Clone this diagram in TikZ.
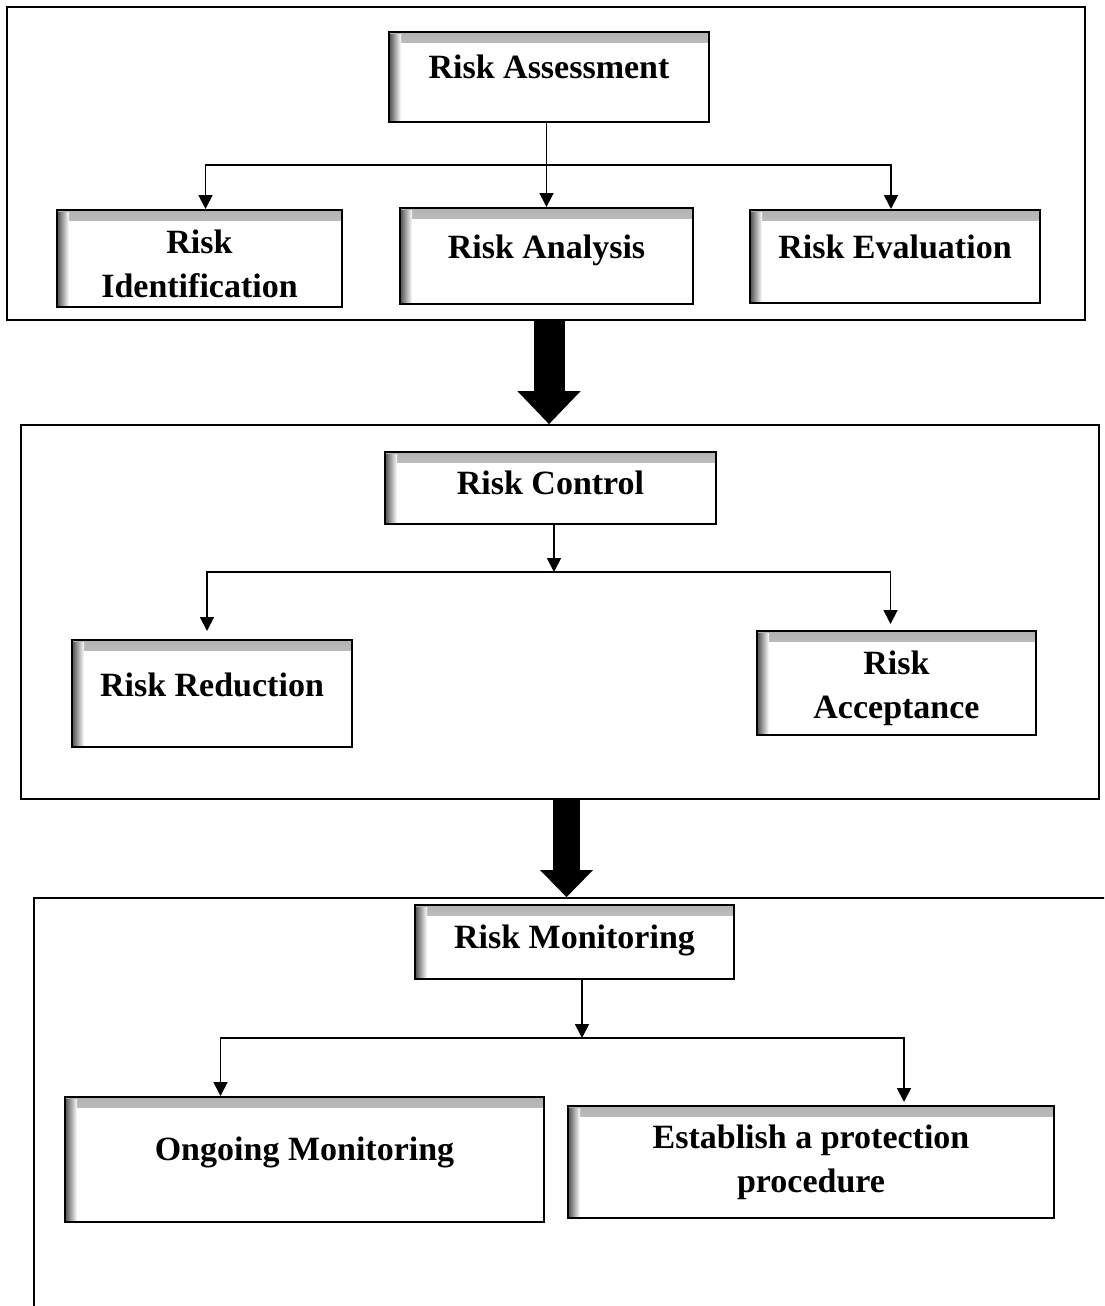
\documentclass[tikz,border=0pt]{standalone}
\usepackage{fontspec}
\setmainfont{Liberation Serif}
\usetikzlibrary{positioning, arrows.meta, calc}

\begin{document}
\begin{tikzpicture}[
    x=0.5pt, y=-0.5pt,
    panel/.style={draw, line width=0.8pt, inner sep=0pt},
    box/.style={
      draw, line width=1pt, fill=white, align=center, inner sep=2pt,
      font=\fontsize{17}{22}\selectfont\bfseries, text height=11.5pt,
      path picture={
        \shade[top color=black!30, bottom color=white]
          (path picture bounding box.north west) rectangle
          ([yshift=-5pt]path picture bounding box.north east);
        \shade[left color=black!70, right color=white]
          ([yshift=-1pt]path picture bounding box.north west) rectangle
          ([xshift=6pt]path picture bounding box.south west);
      }
    },
    twoline/.style={box, text height=#1, text depth=0pt},
    link/.style={draw, line width=0.9pt, -{Triangle[length=7pt, width=7pt]}},
    bigarrow/.style={line width=15.5pt, -{Triangle[length=16.5pt, width=30.5pt]}},
    smallbigarrow/.style={line width=13.5pt, -{Triangle[length=13.5pt, width=25.5pt]}},
]
    \useasboundingbox (0,0) rectangle (1104,1306);
    \clip (0,0) rectangle (1104,1306);

    % Panels
    \node[panel, minimum width=539pt, minimum height=156.5pt] (p1) at (546,163.5) {};
    \node[panel, minimum width=539pt, minimum height=187pt] (p2) at (560,612) {};
    \node[panel, minimum width=548pt, minimum height=221pt] (p3) at (582,1119) {};

    % Assessment
    \node[box, minimum width=160pt, minimum height=45pt, text depth=10.5pt] (ra) at (549,77) {Risk Assessment};
    \node[twoline=38.5pt, minimum width=142.5pt, minimum height=48.5pt] (ri) at (199.5,258.5) {Risk\\Identification};
    \node[box, minimum width=146.5pt, minimum height=48pt, text depth=9.5pt] (an) at (546.5,256) {Risk Analysis};
    \node[box, minimum width=145pt, minimum height=46.5pt, text depth=10pt] (re) at (895,256.5) {Risk Evaluation};

    % Control
    \node[box, minimum width=165.5pt, minimum height=36pt, text depth=5.5pt] (rc) at (550.5,488) {Risk Control};
    \node[box, minimum width=140pt, minimum height=53.5pt, text depth=9pt] (rr) at (212,693.5) {Risk Reduction};
    \node[twoline=35pt, minimum width=139.5pt, minimum height=52pt] (racc) at (896.5,683) {Risk\\Acceptance};

    % Monitoring
    \node[box, minimum width=159.5pt, minimum height=37pt, text depth=5.5pt] (rm) at (574.5,942) {Risk Monitoring};
    \node[box, minimum width=239.5pt, minimum height=62.5pt, text depth=11pt] (om) at (304.5,1159.5) {Ongoing Monitoring};
    \node[twoline=30pt, minimum width=243pt, minimum height=56pt] (ep) at (811,1162) {Establish a protection\\procedure};

    % Branch points
    \coordinate (j1) at (547,165);
    \coordinate (j2) at (554,572);
    \coordinate (j3) at (582,1038);

    % Connectors
    \draw[link] (an.north |- ra.south) -- (an.north);
    \draw[link] (j1) -| ([xshift=3pt]ri.north);
    \draw[link] (j1) -| ([xshift=-2pt]re.north);

    \draw[link] (j2 |- rc.south) -- (j2);
    \draw[link, shorten >=4pt] (j2) -| ([xshift=-2.5pt]rr.north);
    \draw[link, shorten >=3pt] (j2) -| ([xshift=-3pt]racc.north);

    \draw[link] (j3 |- rm.south) -- (j3);
    \draw[link] (j3) -| ([xshift=-42pt]om.north);
    \draw[link, shorten >=1.5pt] (j3) -| ([xshift=46.5pt]ep.north);

    % Stage arrows
    \draw[bigarrow] (p1.south -| ra) -- (p2.north -| ra);
    \draw[smallbigarrow] ($(p2.south -| rm)+(-8,0)$) -- ($(p3.north -| rm)+(-8,0)$);
\end{tikzpicture}
\end{document}
